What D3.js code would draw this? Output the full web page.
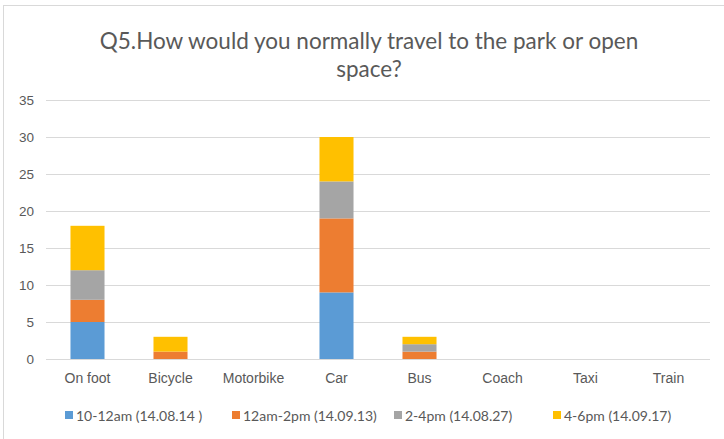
<!DOCTYPE html>
<html>
<head>
<meta charset="utf-8">
<script src="https://cdn.jsdelivr.net/npm/d3@7"></script>
<style>
  body { margin: 0; background: #fff; }
  svg { display: block; font-family: Lato, "Open Sans", sans-serif; }
</style>
</head>
<body>
<svg id="chart" width="724" height="439"></svg>
<script>
const categories = ["On foot", "Bicycle", "Motorbike", "Car", "Bus", "Coach", "Taxi", "Train"];
const seriesNames = ["10-12am (14.08.14 )", "12am-2pm (14.09.13)", "2-4pm (14.08.27)", "4-6pm (14.09.17)"];
const series1 = [5, 0, 0, 9, 0, 0, 0, 0];
const series2 = [3, 1, 0, 10, 1, 0, 0, 0];
const series3 = [4, 0, 0, 5, 1, 0, 0, 0];
const series4 = [6, 2, 0, 6, 1, 0, 0, 0];
const yTicks = [0, 5, 10, 15, 20, 25, 30, 35];
const colors = ["#5B9BD5", "#ED7D31", "#A5A5A5", "#FFC000"];
const titleLines = ["Q5.How would you normally travel to the park or open", "space?"];

const svg = d3.select("#chart");
const W = 724, H = 439;
const margin = { top: 100, right: 14, bottom: 80, left: 46 };
const plotW = W - margin.left - margin.right;
const plotH = H - margin.top - margin.bottom;

// outer chart frame
svg.append("rect")
  .attr("x", 3.5).attr("y", 5.5)
  .attr("width", 730).attr("height", 440)
  .attr("fill", "#fff").attr("stroke", "#D9D9D9");

const rows = categories.map((c, i) => ({
  cat: c, s0: series1[i], s1: series2[i], s2: series3[i], s3: series4[i]
}));
const stack = d3.stack().keys(["s0", "s1", "s2", "s3"])(rows);

const x = d3.scaleBand().domain(categories).range([0, plotW]).paddingInner(0.59).paddingOuter(0.295);
const y = d3.scaleLinear().domain([0, 35]).range([plotH, 0]);

const g = svg.append("g").attr("transform", `translate(${margin.left},${margin.top})`);

// gridlines
g.append("g").selectAll("line").data(yTicks).join("line")
  .attr("x1", 0).attr("x2", plotW)
  .attr("y1", d => Math.round(y(d)) + 0.5).attr("y2", d => Math.round(y(d)) + 0.5)
  .attr("stroke", "#D9D9D9").attr("stroke-width", 1);

// y axis labels
const yAxis = d3.axisLeft(y).tickValues(yTicks).tickSize(0).tickPadding(12);
g.append("g").call(yAxis)
  .call(s => s.select(".domain").remove())
  .selectAll("text").attr("fill", "#595959").style("font-size", "13.5px");

// stacked bars
g.append("g").selectAll("g").data(stack).join("g")
  .attr("fill", (d, i) => colors[i])
  .selectAll("rect").data(d => d).join("rect")
  .attr("x", d => x(d.data.cat))
  .attr("width", x.bandwidth())
  .attr("y", d => y(d[1]))
  .attr("height", d => y(d[0]) - y(d[1]));

// x axis labels
const xAxis = d3.axisBottom(x).tickSize(0).tickPadding(14);
g.append("g").attr("transform", `translate(0,${plotH})`).call(xAxis)
  .call(s => s.select(".domain").remove())
  .selectAll("text").attr("fill", "#595959").style("font-size", "14px");

// title
svg.append("g").selectAll("text").data(titleLines).join("text")
  .attr("x", 369).attr("y", (d, i) => 49 + i * 28)
  .attr("text-anchor", "middle")
  .attr("fill", "#595959").style("font-size", "22.5px")
  .text(d => d);

// legend
const legendX = [65, 232, 394, 553];
const legend = svg.append("g").attr("transform", "translate(0,416)");
const items = legend.selectAll("g").data(seriesNames).join("g")
  .attr("transform", (d, i) => `translate(${legendX[i]},0)`);
items.append("rect").attr("x", 0).attr("y", -5).attr("width", 8).attr("height", 8)
  .attr("fill", (d, i) => colors[i]);
items.append("text").attr("x", 11).attr("y", 4.5)
  .attr("fill", "#595959").style("font-size", "14px").text(d => d);
</script>
</body>
</html>
